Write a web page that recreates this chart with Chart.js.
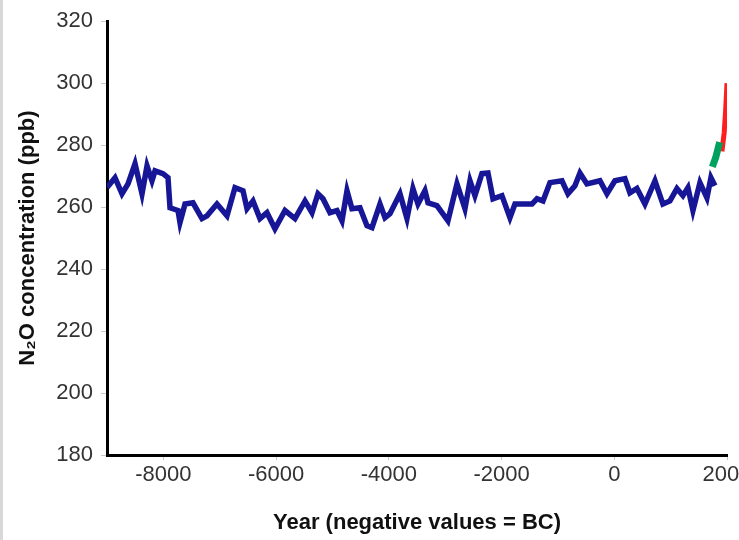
<!DOCTYPE html>
<html>
<head>
<meta charset="utf-8">
<script src="https://cdn.jsdelivr.net/npm/chart.js@4/dist/chart.umd.min.js"></script>
<style>
  html, body { margin: 0; padding: 0; background: #fff; overflow: hidden; }
  #wrap { position: relative; width: 739px; height: 540px; }
  #edge { position: absolute; left: 0; top: 0; width: 3px; height: 540px; background: #d8d8d8; }
</style>
</head>
<body>
<div id="wrap">
  <canvas id="n2o_chart" width="739" height="540"></canvas>
  <div id="edge"></div>
</div>
<script>
// ice core record (blue), firn/early record (green), modern measurements (red)
var coreYears = [-9000,-8858,-8734,-8627,-8503,-8379,-8290,-8202,-8148,-8007,-7918,-7882,-7740,-7705,-7616,-7474,-7315,-7226,-7049,-6871,
                 -6729,-6587,-6516,-6410,-6286,-6162,-6020,-5842,-5665,-5487,-5363,-5257,-5168,-5044,-4920,-4831,-4742,-4654,-4512,-4388,
                 -4299,-4157,-4068,-3980,-3802,-3678,-3572,-3483,-3359,-3305,-3146,-2951,-2791,-2649,-2560,-2472,-2348,-2241,-2152,-1993,
                 -1851,-1762,-1460,-1372,-1265,-1141,-928,-822,-698,-609,-485,-254,-130,12,189,278,402,544,722,863,
                 988,1112,1218,1307,1396,1520,1644,1715,1786];
var coreValues = [266.3,269.5,264.3,267.5,274,264.3,273.3,268.5,271.7,270.8,269.5,259.8,258.9,255,261,261.4,256.3,257.2,261,257.2,
                  266.3,265.3,259.5,262,256.3,258.2,253,258.9,256.3,262,258.2,264.3,262.7,258.2,258.9,255.6,265.3,259.5,259.8,254,
                  253.4,261,256.6,257.9,264.3,256.3,266,261,265.3,261.4,260.5,255.6,267.5,259.5,268.5,263.7,270.8,271,262.7,263.7,
                  256.6,261,261,262.7,262,267.9,268.5,264.3,266.9,271,267.5,268.5,264.3,268.5,269.2,264.6,266,261,268.5,261,
                  262,266,263.7,266.3,258.9,267.9,263,269.5,266.9];
var firnYears  = [1740, 1800, 1870];
var firnValues = [273, 276, 281];
var airYears   = [1910, 1950, 1975, 2000];
var airValues  = [278, 284, 291, 300];
var xTicks = [-8000, -6000, -4000, -2000, 0, 2000];

function pairs(xs, ys) {
    return xs.map(function (x, i) { return {x: x, y: ys[i]}; });
}

const data = {
    datasets: [
        {
            label: 'Ice core',
            data: pairs(coreYears, coreValues),
            borderColor: 'rgb(22, 22, 150)',
            borderWidth: 5.5,
            pointRadius: 0,
            tension: 0
        },
        {
            label: 'Firn',
            data: pairs(firnYears, firnValues),
            borderColor: 'rgb(0, 160, 95)',
            borderWidth: 7,
            pointRadius: 0,
            tension: 0
        },
        {
            label: 'Atmosphere',
            data: pairs(airYears, airValues),
            borderColor: 'rgb(255, 30, 30)',
            borderWidth: 5,
            pointRadius: 0,
            tension: 0
        }
    ]
};

const config = {
    type: 'line',
    data: data,
    options: {
        responsive: false,
        animation: false,
        layout: { padding: { top: 20, right: 12, left: 0, bottom: 0 } },
        plugins: { legend: { display: false }, tooltip: { enabled: false } },
        scales: {
            x: {
                type: 'linear',
                min: -9000,
                max: 2000,
                afterBuildTicks: function (scale) {
                    scale.ticks = xTicks.map(function (v) { return {value: v}; });
                },
                afterFit: function (scale) {
                    scale.height = 85;
                    scale.paddingRight = 0;
                    scale.paddingLeft = 0;
                },
                grid: { drawOnChartArea: false, color: '#c8c8c8', tickLength: 5 },
                border: { color: '#000', width: 3 },
                ticks: {
                    color: '#333',
                    padding: 2,
                    maxRotation: 0,
                    autoSkip: false,
                    callback: function (v) { return String(v); },
                    font: { family: 'Liberation Sans, Arial', size: 22 }
                },
                title: {
                    display: true,
                    text: 'Year (negative values = BC)',
                    color: '#111',
                    padding: { top: 0, bottom: 4 },
                    font: { family: 'Liberation Sans, Arial', size: 22, weight: 'bold' }
                }
            },
            y: {
                min: 180,
                max: 320,
                afterFit: function (scale) {
                    scale.width = 107;
                },
                grid: { drawOnChartArea: false, color: '#c8c8c8', tickLength: 6 },
                border: { color: '#000', width: 3 },
                ticks: {
                    stepSize: 20,
                    color: '#333',
                    padding: 8,
                    font: { family: 'Liberation Sans, Arial', size: 22 }
                },
                title: {
                    display: true,
                    text: 'N₂O concentration (ppb)',
                    color: '#111',
                    padding: { top: 15, bottom: 0 },
                    font: { family: 'Liberation Sans, Arial', size: 22, weight: 'bold' }
                }
            }
        }
    }
};

var myChart = new Chart(
    document.getElementById('n2o_chart'),
    config
);
</script>
</body>
</html>
